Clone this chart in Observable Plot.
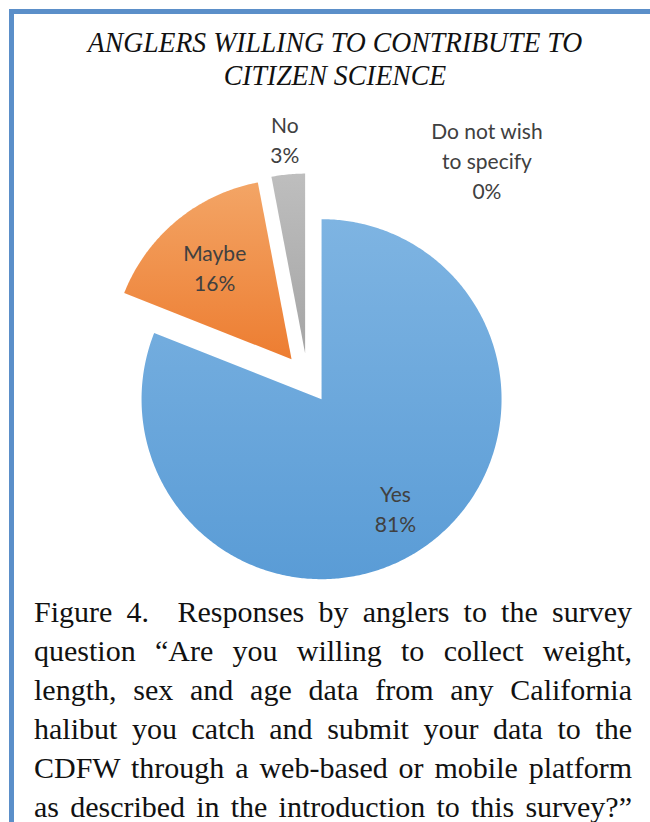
<!DOCTYPE html>
<html>
<head>
<meta charset="utf-8">
<script src="https://cdn.jsdelivr.net/npm/d3@7"></script>
<script src="https://cdn.jsdelivr.net/npm/@observablehq/plot@0.6"></script>
<style>
  html, body { margin: 0; padding: 0; background: #fff; }
  #page { position: relative; width: 650px; height: 822px; overflow: hidden; }
  #frame {
    position: absolute; left: 9px; top: 9px; right: -20px; bottom: -20px;
    border-left: 5px solid #5b8fc9; border-top: 5px solid #5b8fc9;
  }
  #title {
    position: absolute; left: 14px; width: 642px; top: 26px;
    text-align: center; font-family: "Liberation Serif", serif; font-style: italic;
    font-size: 29px; line-height: 33px; color: #111;
    transform: scaleX(0.955); transform-origin: 321px 0;
  }
  #chart { position: absolute; left: 0; top: 95px; }
  #caption {
    position: absolute; left: 34px; width: 598px; top: 592px;
    font-family: "Liberation Serif", serif; font-size: 30px; line-height: 39px; color: #111;
  }
  #caption div { text-align: justify; text-align-last: justify; white-space: nowrap; }
</style>
</head>
<body>
<div id="page">
  <div id="frame"></div>
  <div id="title">ANGLERS WILLING TO CONTRIBUTE TO<br>CITIZEN SCIENCE</div>
  <div id="chart"></div>
  <div id="caption"></div>
</div>
<script>
// Survey responses (percent of anglers)
const categories = ["Yes", "Maybe", "No", "Do not wish to specify"];
const shares = [81, 16, 3, 0];
const labelNames = ["Yes", "Maybe", "No", "Do not wish\nto specify"];

// Slice fills: vertical gradient from top colour to bottom colour
const sliceTop = ["#7eb4e2", "#f3a566", "#bebebe", "#ffd966"];
const sliceBottom = ["#5a9cd6", "#ed7d31", "#a5a5a5", "#ffc000"];

const captionLines = [
  "Figure 4.\u00a0 Responses by anglers to the survey",
  "question \u201cAre you willing to collect weight,",
  "length, sex and age data from any California",
  "halibut you catch and submit your data to the",
  "CDFW through a web-based or mobile platform",
  "as described in the introduction to this survey?\u201d"
];

// Geometry (pixels): pie radius, slice explosion, centre inside the SVG
const W = 650, H = 500, R = 180, cx = 307, cy = 283;
const explode = 25 / R;

// Label placement: distance from the slice tip (in radii), optional fixed angle (degrees)
const labelPlacement = {
  "Yes": {radius: 0.73},
  "Maybe": {radius: 0.67},
  "No": {radius: 1.2},
  "Do not wish to specify": {radius: 1.47, angle: 42.7}
};

const arcs = d3.pie().sort(null).value(d => d)(shares);

const slices = arcs.map((a, i) => {
  const mid = (a.startAngle + a.endAngle) / 2;
  const ox = explode * Math.sin(mid), oy = explode * Math.cos(mid);
  const pts = [{x: ox, y: oy}];
  const n = Math.max(2, Math.ceil((a.endAngle - a.startAngle) / 0.01));
  for (let k = 0; k <= n; ++k) {
    const t = a.startAngle + (a.endAngle - a.startAngle) * k / n;
    pts.push({x: ox + Math.sin(t), y: oy + Math.cos(t)});
  }
  pts.push({x: ox, y: oy});
  return {category: categories[i], share: shares[i], mid, ox, oy, pts, empty: a.endAngle - a.startAngle === 0};
});

const labels = slices.map((s, i) => {
  const p = labelPlacement[s.category];
  const ang = p.angle != null ? p.angle * Math.PI / 180 : s.mid;
  return {
    x: s.ox + p.radius * Math.sin(ang),
    y: s.oy + p.radius * Math.cos(ang),
    text: `${labelNames[i]}\n${s.share}%`
  };
});

const chart = Plot.plot({
  width: W,
  height: H,
  margin: 0,
  x: {domain: [-cx / R, (W - cx) / R], axis: null},
  y: {domain: [-(H - cy) / R, cy / R], axis: null},
  marks: [
    ...slices.filter(s => !s.empty).map((s) =>
      Plot.line(s.pts, {x: "x", y: "y", fill: `url(#slice-fill-${categories.indexOf(s.category)})`, stroke: "none", curve: "linear"})
    ),
    Plot.text(labels, {
      x: "x", y: "y", text: "text",
      fontFamily: "Lato", fontSize: 21, lineHeight: 1.43, fill: "#404040"
    })
  ]
});

const defs = d3.select(chart).insert("defs", ":first-child");
categories.forEach((c, i) => {
  const g = defs.append("linearGradient").attr("id", `slice-fill-${i}`)
    .attr("x1", 0).attr("y1", 0).attr("x2", 0).attr("y2", 1);
  g.append("stop").attr("offset", "0%").attr("stop-color", sliceTop[i]);
  g.append("stop").attr("offset", "100%").attr("stop-color", sliceBottom[i]);
});

document.getElementById("chart").appendChild(chart);

const cap = document.getElementById("caption");
captionLines.forEach(line => {
  const d = document.createElement("div");
  d.textContent = line;
  cap.appendChild(d);
});
</script>
</body>
</html>
